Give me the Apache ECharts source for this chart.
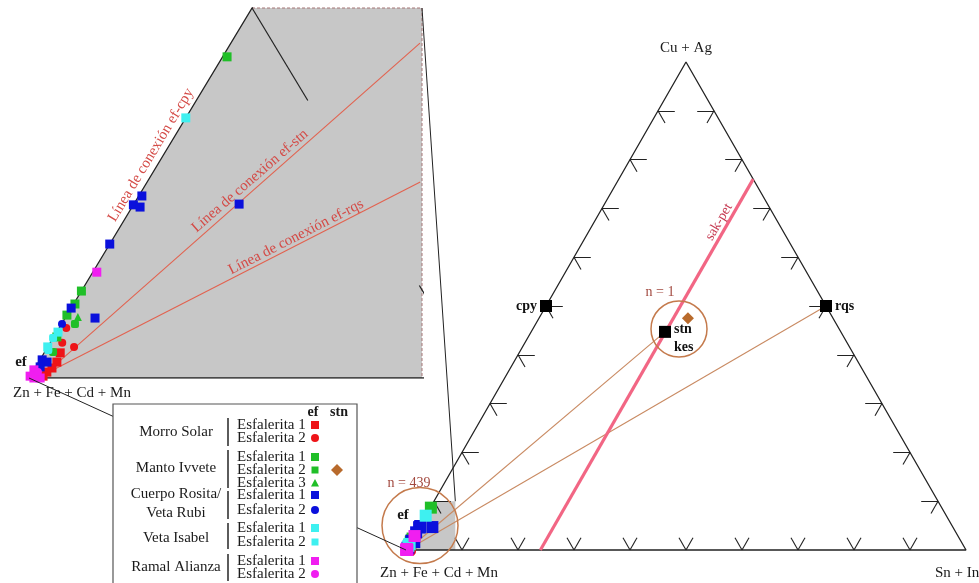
<!DOCTYPE html>
<html>
<head>
<meta charset="utf-8">
<script src="https://cdn.jsdelivr.net/npm/echarts@6/dist/echarts.min.js"></script>
<style>
  html, body { margin: 0; padding: 0; background: #fff; }
  #main { width: 979px; height: 583px; }
</style>
</head>
<body>
<div id="main"></div>
<script>
// compositions in % : [Cu + Ag, Sn + In]  (Zn + Fe + Cd + Mn = the rest)
var morroEsf1   = [[0.68, 0.36], [0.43, 0.41], [0.27, 0.38], [0.16, 0.32], [0.05, 0.29]];
var morroEsf2   = [[1.35, 0.16], [0.95, 0.27], [0.84, 0.59]];
var mantoEsf1   = [[8.68, 0.10], [2.35, 0], [2.00, 0.03], [1.70, 0], [1.11, 0.07]];
var mantoEsf2   = [[1.46, 0.30], [0.70, 0.19]];
var mantoEsf3   = [[1.65, 0.27]];
var rositaEsf1  = [[4.92, 0.07], [4.68, 0], [4.62, 0.18], [4.70, 2.36], [3.62, 0], [1.89, 0],
                   [1.62, 0.67], [0.49, 0.05], [0.43, 0.19], [0.30, 0.10]];
var rositaEsf2  = [[1.46, 0.01]];
var isabelEsf1  = [[7.03, 0], [1.24, 0.03], [0.84, 0]];
var isabelEsf2  = [[1.08, 0], [0.76, 0.05]];
var alianzaEsf1 = [[2.86, 0.09], [0.22, 0], [0.11, 0.10], [0.05, 0], [0, 0.25], [0, 0.11]];
var alianzaEsf2 = [[0.16, 0.12]];
var mantoStn    = [[47.5, 26.6]];

// reference minerals
var refNames  = ['cpy', 'rqs', 'stn'];
var refValues = [[50, 0], [50, 50], [44.7, 23.9]];

// tie lines from the ef field
var efOrigin     = [0.1, 0.3];
var insetTieEnds = [[9.05, 4.24], [5.30, 6.12]];   // ef-stn, ef-rqs as drawn in the zoom
var sakPet       = [[0, 24], [76, 24]];

var tickValues = [10, 20, 30, 40, 50, 60, 70, 80, 90];
var triangle   = [[0, 0], [0, 100], [100, 0], [0, 0]];
var zoomRegion = [[0, 0], [10, 0], [10, 3.81], [0, 8.81]];

// ---------------------------------------------------------------
var SERIF = '"Liberation Serif", "DejaVu Serif", serif';
var RED = '#ee1418', GREEN = '#20bf28', BLUE = '#0a10dc', CYAN = '#3ef0f0', MAG = '#f01ef0', BROWN = '#b86a2c';
var ARM_H = 3, ARM_D = 2.5;

function toXY(p) { return [(p[1] + p[0] / 2) / 100, p[0] / 100]; }

var samples = [
  { name: 'Morro Solar Esf 1',   data: morroEsf1,   color: RED,   symbol: 'rect' },
  { name: 'Morro Solar Esf 2',   data: morroEsf2,   color: RED,   symbol: 'circle' },
  { name: 'Manto Ivvete Esf 1',  data: mantoEsf1,   color: GREEN, symbol: 'rect' },
  { name: 'Manto Ivvete Esf 2',  data: mantoEsf2,   color: GREEN, symbol: 'roundRect' },
  { name: 'Manto Ivvete Esf 3',  data: mantoEsf3,   color: GREEN, symbol: 'triangle' },
  { name: 'Cuerpo Rosita Esf 1', data: rositaEsf1,  color: BLUE,  symbol: 'rect' },
  { name: 'Cuerpo Rosita Esf 2', data: rositaEsf2,  color: BLUE,  symbol: 'circle' },
  { name: 'Veta Isabel Esf 1',   data: isabelEsf1,  color: CYAN,  symbol: 'rect' },
  { name: 'Veta Isabel Esf 2',   data: isabelEsf2,  color: CYAN,  symbol: 'roundRect' },
  { name: 'Ramal Alianza Esf 1', data: alianzaEsf1, color: MAG,   symbol: 'rect' },
  { name: 'Ramal Alianza Esf 2', data: alianzaEsf2, color: MAG,   symbol: 'circle' }
];

// tick arms in composition space
var tickSegs = [];
tickValues.forEach(function (t) {
  tickSegs.push({ a: [t, 0], b: [t, ARM_H], diag: false });
  tickSegs.push({ a: [t, 0], b: [t - ARM_D, ARM_D], diag: true });
  tickSegs.push({ a: [t, 100 - t], b: [t, 100 - t - ARM_H], diag: false });
  tickSegs.push({ a: [t, 100 - t], b: [t - ARM_D, 100 - t], diag: true });
  tickSegs.push({ a: [0, t], b: [ARM_D, t], diag: true });
  tickSegs.push({ a: [0, t], b: [ARM_D, t - ARM_D], diag: true });
});

function regionSeries(idx) {
  return {
    type: 'custom', xAxisIndex: idx, yAxisIndex: idx, z: 1, silent: true,
    data: [[0, 0]],
    renderItem: function (params, api) {
      return {
        type: 'polygon',
        shape: { points: zoomRegion.map(function (p) { return api.coord(toXY(p)); }) },
        style: { fill: '#c7c7c7' }
      };
    }
  };
}

function lineSeries(idx, pts, color, width, z, extra) {
  var s = {
    type: 'line', xAxisIndex: idx, yAxisIndex: idx, z: z, silent: true,
    symbol: 'none', animation: false,
    data: pts.map(toXY),
    lineStyle: { color: color, width: width }
  };
  for (var k in extra) s[k] = extra[k];
  return s;
}

function segSeries(idx, segs, color, width, z) {
  return {
    type: 'lines', coordinateSystem: 'cartesian2d', xAxisIndex: idx, yAxisIndex: idx,
    z: z, silent: true, clip: true, animation: false,
    lineStyle: { color: color, width: width, opacity: 1 },
    data: segs.map(function (s) { return { coords: [toXY(s[0]), toXY(s[1])] }; })
  };
}

function scatterSeries(idx, s, size) {
  return {
    type: 'scatter', name: s.name, xAxisIndex: idx, yAxisIndex: idx, z: 5,
    clip: false, animation: false,
    symbol: s.symbol, symbolSize: s.symbol === 'rect' ? size : size - 1,
    itemStyle: { color: s.color, opacity: 1 },
    data: s.data.map(toXY)
  };
}

var series = [];
// ---- main triangle
series.push(regionSeries(0));
series.push(lineSeries(0, triangle, '#222', 1.3, 2, { clip: false }));
series.push(segSeries(0, tickSegs.map(function (s) { return [s.a, s.b]; }), '#222', 1.1, 2));
series.push(lineSeries(0, sakPet, '#f26684', 3.2, 3, { clip: false }));
series.push(segSeries(0, [[efOrigin, refValues[2]], [efOrigin, refValues[1]]], '#c98a62', 1.1, 3));
series.push({
  type: 'scatter', xAxisIndex: 0, yAxisIndex: 0, z: 4, clip: false, silent: true, animation: false,
  symbol: 'circle',
  itemStyle: { color: 'rgba(0,0,0,0)', borderColor: '#c47a4c', borderWidth: 1.5, opacity: 1 },
  data: [
    { value: toXY([5, 0]), symbolSize: 76 },
    { value: toXY([45.3, 26.1]), symbolSize: 56 }
  ]
});
samples.forEach(function (s) { series.push(scatterSeries(0, s, 12)); });
series.push({
  type: 'scatter', xAxisIndex: 0, yAxisIndex: 0, z: 6, clip: false, animation: false,
  symbol: 'rect', symbolSize: 12, itemStyle: { color: '#000', opacity: 1 },
  label: { show: true, fontFamily: SERIF, fontWeight: 'bold', fontSize: 14, color: '#111' },
  data: refValues.map(function (v, i) {
    var pos = i === 0 ? 'left' : 'right';
    return {
      value: toXY(v),
      label: {
        position: pos, distance: 3,
        formatter: i === 2 ? refNames[i] + '\nkes' : refNames[i],
        lineHeight: 18, offset: i === 2 ? [0, 7] : [0, 0]
      }
    };
  })
});
series.push({
  type: 'scatter', xAxisIndex: 0, yAxisIndex: 0, z: 6, clip: false, animation: false,
  symbol: 'diamond', symbolSize: 12, itemStyle: { color: BROWN, opacity: 1 },
  data: mantoStn.map(toXY)
});

// ---- zoomed corner
series.push(regionSeries(1));
series.push(lineSeries(1, zoomRegion.slice(1), '#a57575', 1, 2, {
  clip: false, lineStyle: { color: '#a57575', width: 1, type: [3, 2] }
}));
series.push(lineSeries(1, triangle, '#222', 1.3, 3, { clip: true }));
series.push(segSeries(1, tickSegs.filter(function (s) { return s.diag; })
  .map(function (s) { return [s.a, s.b]; }), '#222', 1.2, 3));
series.push(segSeries(1, insetTieEnds.map(function (e) { return [efOrigin, e]; }), '#e2624f', 1.1, 3));
samples.forEach(function (s) { series.push(scatterSeries(1, s, 9)); });

var option = {
  backgroundColor: '#fff',
  animation: false,
  grid: [
    { left: 406, top: 62, width: 560, height: 488 },
    { left: 29, top: 8, width: 393, height: 370 }
  ],
  xAxis: [
    { type: 'value', gridIndex: 0, min: 0, max: 1, show: false },
    { type: 'value', gridIndex: 1, min: 0, max: 0.0881, show: false }
  ],
  yAxis: [
    { type: 'value', gridIndex: 0, min: 0, max: 1, show: false },
    { type: 'value', gridIndex: 1, min: 0, max: 0.1, show: false }
  ],
  series: series
};

var chart = echarts.init(document.getElementById('main'), null, { renderer: 'canvas' });
chart.setOption(option);

// ---- annotations, connectors and key
function txt(str, x, y, opt) {
  opt = opt || {};
  return {
    type: 'text', x: x, y: y, z: opt.z || 50, rotation: (opt.rot || 0) * Math.PI / 180,
    style: {
      text: str, x: 0, y: 0, fill: opt.color || '#1a1a1a',
      font: (opt.bold ? 'bold ' : '') + (opt.size || 15) + 'px ' + SERIF,
      textAlign: opt.align || 'center', textVerticalAlign: 'middle'
    }
  };
}
function seg(x1, y1, x2, y2, color, w, z) {
  return { type: 'line', z: z || 20, shape: { x1: x1, y1: y1, x2: x2, y2: y2 },
           style: { stroke: color, lineWidth: w } };
}
function marker(sym, cx, cy, color) {
  if (sym === 'circle') return { type: 'circle', z: 61, shape: { cx: cx, cy: cy, r: 4 }, style: { fill: color } };
  if (sym === 'triangle') return { type: 'polygon', z: 61, shape: { points: [[cx, cy - 4], [cx + 4, cy + 3.5], [cx - 4, cy + 3.5]] }, style: { fill: color } };
  if (sym === 'diamond') return { type: 'polygon', z: 61, shape: { points: [[cx, cy - 6], [cx + 6, cy], [cx, cy + 6], [cx - 6, cy]] }, style: { fill: color } };
  var h = sym === 'rect' ? 4 : 3.5;
  return { type: 'rect', z: 61, shape: { x: cx - h, y: cy - h, width: 2 * h, height: 2 * h }, style: { fill: color } };
}

var pMainTR = chart.convertToPixel({ xAxisIndex: 0, yAxisIndex: 0 }, toXY(zoomRegion[2]));
var pInsTR  = chart.convertToPixel({ xAxisIndex: 1, yAxisIndex: 1 }, toXY(zoomRegion[2]));
var pMainC  = chart.convertToPixel({ xAxisIndex: 0, yAxisIndex: 0 }, toXY(zoomRegion[0]));
var pInsC   = chart.convertToPixel({ xAxisIndex: 1, yAxisIndex: 1 }, toXY(zoomRegion[0]));

var g = [];
g.push(seg(pInsTR[0], pInsTR[1], pMainTR[0], pMainTR[1], '#222', 1, 10));
g.push(seg(pInsC[0], pInsC[1], pMainC[0], pMainC[1], '#222', 1, 10));

g.push(txt('Cu + Ag', 686, 48));
g.push(txt('Zn + Fe + Cd + Mn', 439, 573));
g.push(txt('Sn + In', 935, 573, { align: 'left' }));
g.push(txt('Zn + Fe + Cd + Mn', 13, 393, { align: 'left' }));
g.push(txt('ef', 21, 362, { bold: true }));
g.push(txt('ef', 403, 515, { bold: true }));
g.push(txt('n = 439', 409, 483, { color: '#a2493f', size: 14 }));
g.push(txt('n = 1', 660, 292, { color: '#a2493f', size: 14 }));
g.push(txt('sak-pet', 719, 222, { color: '#c63a52', size: 14, rot: 59.6 }));
g.push(txt('Línea de conexión ef-cpy', 151, 155, { color: '#d44a46', rot: 59 }));
g.push(txt('Línea de conexión ef-stn', 250, 181, { color: '#d44a46', rot: 41 }));
g.push(txt('Línea de conexión ef-rqs', 296, 237, { color: '#d44a46', rot: 27 }));

// key box
g.push({ type: 'rect', z: 60, shape: { x: 113, y: 404, width: 244, height: 190 },
         style: { fill: '#fff', stroke: '#555', lineWidth: 1.2 } });
g.push(txt('ef', 313, 412, { bold: true, size: 14, z: 61 }));
g.push(txt('stn', 339, 412, { bold: true, size: 14, z: 61 }));
var groupLabels = [['Morro Solar', 432], ['Manto Ivvete', 468], ['Cuerpo Rosita/', 494],
                   ['Veta Rubi', 513], ['Veta Isabel', 538], ['Ramal Alianza', 567]];
groupLabels.forEach(function (l) { g.push(txt(l[0], 176, l[1], { z: 61 })); });
[[418, 446], [450, 488], [491, 519], [523, 549], [554, 581]].forEach(function (b) {
  g.push(seg(228, b[0], 228, b[1], '#333', 1.6, 61));
});
var rowY = [425, 438, 457, 470, 483, 495, 510, 528, 542, 561, 574];
samples.forEach(function (s, i) {
  g.push(txt('Esfalerita ' + s.name.slice(-1), 237, rowY[i], { align: 'left', z: 61 }));
  g.push(marker(s.symbol, 315, rowY[i], s.color));
});
g.push(marker('diamond', 337, 470, BROWN));

chart.setOption({ graphic: g });
</script>
</body>
</html>
